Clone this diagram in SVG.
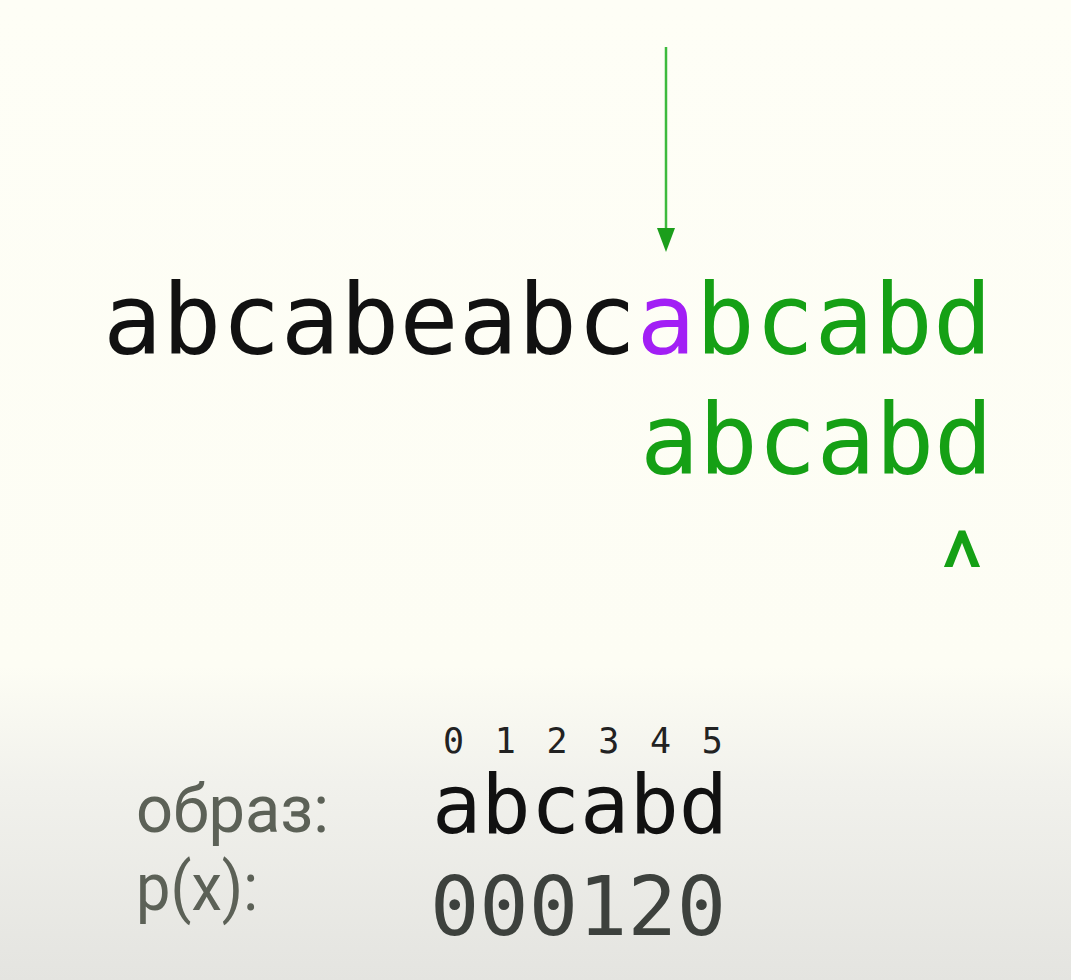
<svg xmlns="http://www.w3.org/2000/svg" width="1071" height="980" viewBox="0 0 1071 980">
  <defs>
    <linearGradient id="bg" x1="0" y1="0" x2="0" y2="1">
      <stop offset="0" stop-color="#fefef6"/>
      <stop offset="0.68" stop-color="#fdfdf4"/>
      <stop offset="0.8" stop-color="#f1f1ec"/>
      <stop offset="1" stop-color="#e4e4e0"/>
    </linearGradient>
  </defs>
  <style>
    .mono { font-family: "DejaVu Sans Mono", "Liberation Mono", monospace; }
    .label { font-family: Roboto, "Noto Sans", sans-serif; fill: #5c6157; font-size: 67px; }
    .green { fill: #15a015; }
    .purple { fill: #a21ff5; }
    .black { fill: #111111; }
  </style>
  <rect x="0" y="0" width="1071" height="980" fill="url(#bg)"/>

  <g id="connectors">
    <line x1="666" y1="47" x2="666" y2="230" stroke="#3dba3d" stroke-width="2.5"/>
    <path d="M657,228 L675,228 L666,252 Z" fill="#1b9e1b"/>
  </g>

  <g id="text-line">
    <text class="mono" x="103" y="354" font-size="98" textLength="889" lengthAdjust="spacing"><tspan class="black">abcabeabc</tspan><tspan class="purple">a</tspan><tspan class="green">bcabd</tspan></text>
  </g>

  <g id="pattern-line">
    <text class="mono green" x="640" y="474" font-size="98" textLength="353" lengthAdjust="spacing">abcabd</text>
  </g>

  <g id="caret">
    <text class="green" x="962" y="603" font-size="102" text-anchor="middle" font-family="Roboto, sans-serif">^</text>
  </g>

  <g id="indices">
    <text class="mono" x="443" y="753" font-size="35" letter-spacing="4.8" fill="#222222">0 1 2 3 4 5</text>
  </g>

  <g id="pattern-label">
    <text class="label" x="136" y="832" textLength="193" lengthAdjust="spacingAndGlyphs">образ:</text>
    <text class="mono black" x="432" y="833" font-size="82">abcabd</text>
  </g>

  <g id="prefix-label">
    <text class="label" x="136" y="910" textLength="122" lengthAdjust="spacingAndGlyphs">p(x):</text>
    <text class="mono" x="430" y="935" font-size="82" fill="#3d413d">000120</text>
  </g>
</svg>
